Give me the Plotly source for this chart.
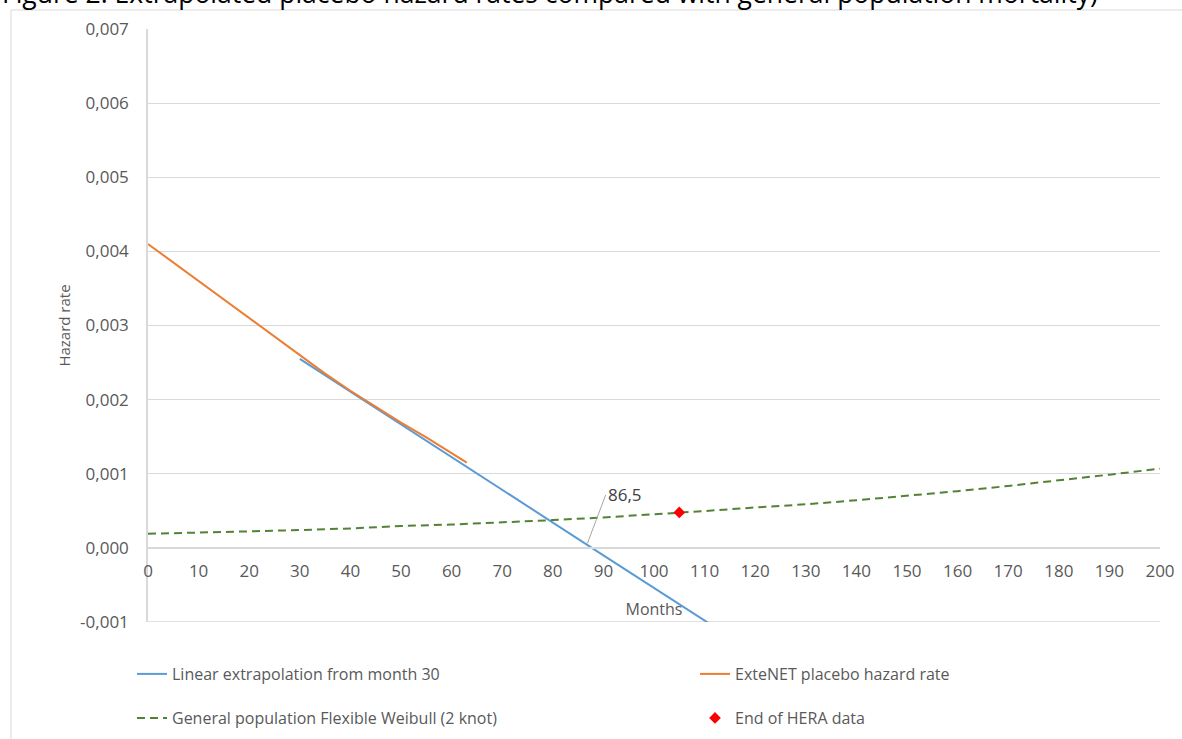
import plotly.graph_objects as go

# Linear extrapolation of the placebo hazard from month 30
linear_months = [30, 60, 90, 120]
linear_hazard = [0.00255, 0.00122, -0.00010, -0.00142]

# ExteNET placebo hazard rate
extenet_months = [0, 5, 10, 15, 20, 25, 30, 35, 40, 45, 50, 55, 60, 63]
extenet_hazard = [0.00410, 0.00385, 0.00360, 0.00335, 0.00310, 0.00284, 0.00259,
                  0.00235, 0.00212, 0.00190, 0.00169, 0.00149, 0.00128, 0.00115]

# General population mortality, flexible Weibull (2 knot)
genpop_months = [0, 10, 20, 30, 40, 50, 60, 70, 80, 90, 100, 110, 120, 130, 140,
                 150, 160, 170, 180, 190, 200]
genpop_hazard = [0.000190, 0.000205, 0.000222, 0.000240, 0.000262, 0.000295,
                 0.000315, 0.000342, 0.000375, 0.000410, 0.000450, 0.000497,
                 0.000545, 0.000588, 0.000642, 0.000700, 0.000765, 0.000835,
                 0.000908, 0.000988, 0.001068]

# End of HERA follow-up
hera_month = [105]
hera_hazard = [0.000478]

# Month at which the linear extrapolation reaches zero
zero_month = 86.5
zero_label = "86,5"

y_ticks = [-0.001, 0.000, 0.001, 0.002, 0.003, 0.004, 0.005, 0.006, 0.007]
y_tick_labels = ["-0,001", "0,000", "0,001", "0,002", "0,003", "0,004",
                 "0,005", "0,006", "0,007"]
x_ticks = list(range(0, 201, 10))

title_text = ("Figure 2: Extrapolated placebo hazard rates compared with "
              "general population mortality)")

FONT = "Open Sans"
GREY = "#595959"
GRID = "#d9d9d9"

# Layout geometry (pixels)
W, H = 1182, 739
M_L, M_R, M_T, M_B = 148, 22, 29, 117
PLOT_W = W - M_L - M_R
PLOT_H = H - M_T - M_B


def px_to_paper_x(px):
    return (px - M_L) / PLOT_W


def px_to_paper_y(py):
    return (H - M_B - py) / PLOT_H


y_range = [y_ticks[0], y_ticks[-1]]
x_axis_pos = (0 - y_range[0]) / (y_range[1] - y_range[0])

fig = go.Figure()

fig.add_trace(go.Scatter(
    x=linear_months, y=linear_hazard, mode="lines",
    name="Linear extrapolation from month 30",
    line=dict(color="#5B9BD5", width=2), legend="legend"))

fig.add_trace(go.Scatter(
    x=extenet_months, y=extenet_hazard, mode="lines",
    name="ExteNET placebo hazard rate",
    line=dict(color="#ED7D31", width=2), legend="legend3"))

fig.add_trace(go.Scatter(
    x=genpop_months, y=genpop_hazard, mode="lines",
    name="General population Flexible Weibull (2 knot)",
    line=dict(color="#548235", width=2, dash="8px,5px"), legend="legend2"))

fig.add_trace(go.Scatter(
    x=hera_month, y=hera_hazard, mode="markers",
    name="End of HERA data",
    marker=dict(color="#FF0000", symbol="diamond", size=9), legend="legend4"))

# Data label for the zero crossing, with a grey leader line
fig.add_annotation(
    x=zero_month, y=0, xref="x", yref="y", text=zero_label,
    showarrow=True, arrowhead=0, arrowwidth=1, arrowcolor="#a6a6a6",
    ax=20, ay=-53, xanchor="left", yanchor="middle", standoff=5,
    font=dict(family=FONT, size=17, color="#404040"))

# Figure caption, partly above the page edge
fig.add_annotation(
    x=px_to_paper_x(0), y=px_to_paper_y(-7), xref="paper", yref="paper",
    text=title_text, showarrow=False, xanchor="left", yanchor="middle",
    font=dict(family=FONT, size=26.5, color="#000000"))

# Chart frame
fig.add_shape(type="rect", xref="paper", yref="paper",
              x0=px_to_paper_x(11), x1=px_to_paper_x(W + 20),
              y0=px_to_paper_y(H + 20), y1=px_to_paper_y(10),
              line=dict(color=GRID, width=1), layer="below")

# Gridline at the lower bound of the value axis
fig.add_shape(type="line", xref="paper", yref="y",
              x0=0, x1=1, y0=y_ticks[0], y1=y_ticks[0],
              line=dict(color=GRID, width=1.5), layer="below")

legend_style = dict(orientation="h", xanchor="left", yanchor="middle",
                    bgcolor="rgba(0,0,0,0)",
                    font=dict(family=FONT, size=16, color=GREY))

fig.update_layout(
    width=W, height=H,
    margin=dict(l=M_L, r=M_R, t=M_T, b=M_B, autoexpand=False),
    paper_bgcolor="white", plot_bgcolor="white",
    font=dict(family=FONT, color=GREY),
    showlegend=True,
    xaxis=dict(
        range=[0, 200], tickvals=x_ticks, showgrid=False, zeroline=False,
        showline=True, linecolor=GRID, linewidth=1.5,
        anchor="free", position=x_axis_pos, ticks="", ticklabelstandoff=8,
        tickfont=dict(family=FONT, size=17, color=GREY),
        title=dict(text="Months", font=dict(family=FONT, size=16, color=GREY),
                   standoff=22)),
    yaxis=dict(
        range=y_range, tickvals=y_ticks, ticktext=y_tick_labels,
        showgrid=True, gridcolor=GRID, gridwidth=1, zeroline=False,
        showline=True, linecolor=GRID, linewidth=1.5, ticks="",
        ticklabelstandoff=14,
        tickfont=dict(family=FONT, size=17, color=GREY),
        title=dict(text="Hazard rate", font=dict(family=FONT, size=15, color=GREY),
                   standoff=6)),
    legend=dict(x=px_to_paper_x(132), y=px_to_paper_y(674), **legend_style),
    legend2=dict(x=px_to_paper_x(132), y=px_to_paper_y(718), **legend_style),
    legend3=dict(x=px_to_paper_x(695), y=px_to_paper_y(674), **legend_style),
    legend4=dict(x=px_to_paper_x(695), y=px_to_paper_y(718), **legend_style),
)

fig.write_html("out.html")
